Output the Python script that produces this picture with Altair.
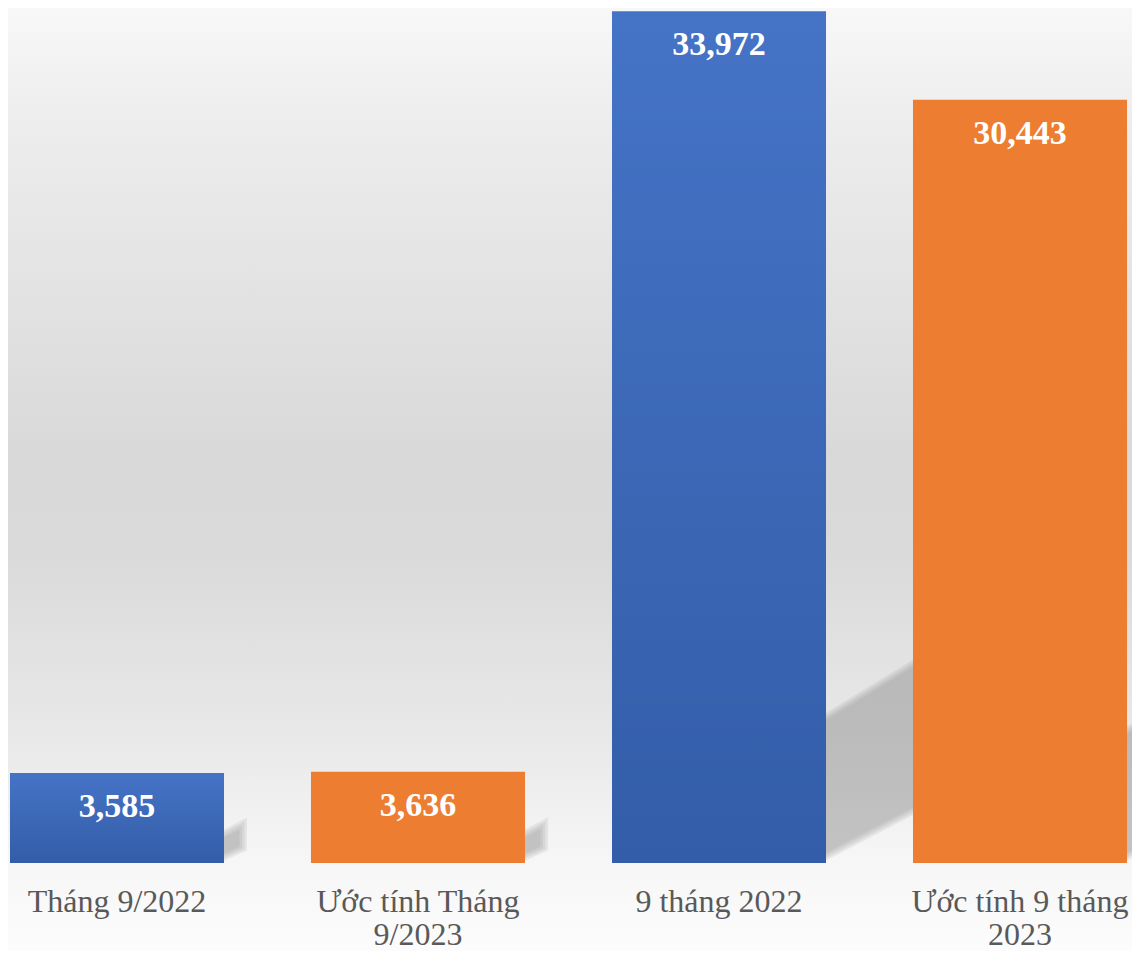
import altair as alt
import pandas as pd

# ---- data ----
categories = ["Tháng 9/2022", "Ước tính Tháng 9/2023", "9 tháng 2022", "Ước tính 9 tháng 2023"]
values = [3585, 3636, 33972, 30443]
periods = ["2022", "2023", "2022", "2023"]
label_lines = [["Tháng 9/2022"], ["Ước tính Tháng", "9/2023"], ["9 tháng 2022"], ["Ước tính 9 tháng", "2023"]]

# ---- layout ----
W, H = 1121, 855
Y_MAX = 34100
PAD_INNER = 0.289
PAD_OUTER = 0.0066
PAD = {"left": 0, "top": 0, "right": 3, "bottom": 88}
SERIF = "Liberation Serif"

df = pd.DataFrame({"cat": categories, "value": values, "period": periods})


def x_scale():
    return alt.Scale(type="band", domain=categories, paddingInner=PAD_INNER, paddingOuter=PAD_OUTER)


y_scale = alt.Scale(domain=[0, Y_MAX], nice=False, zero=True)

label_expr = " : ".join(
    f"datum.value == '{c}' ? {list(lines)}" for c, lines in zip(categories, label_lines)
) + " : datum.value"
label_expr = label_expr.replace('"', "'")

x_axis = alt.Axis(
    title=None, labelAngle=0, ticks=False, tickSize=0, domain=False, grid=False,
    labelFont=SERIF, labelColor="#595959", labelPadding=48, labelFontSize=32,
    labelBaseline="alphabetic", labelLineHeight=33, labelLimit=500, labelExpr=label_expr,
    zindex=2,
)

# ---- background gradient ----
bg_grad = {
    "gradient": "linear", "x1": 0, "x2": 0, "y1": 0, "y2": 1,
    "stops": [
        {"offset": 0.0, "color": "#f8f8f8"},
        {"offset": 0.12, "color": "#ededed"},
        {"offset": 0.47, "color": "#d9d9d9"},
        {"offset": 0.58, "color": "#dadada"},
        {"offset": 0.78, "color": "#e9e9e9"},
        {"offset": 0.9, "color": "#f6f6f6"},
        {"offset": 1.0, "color": "#fcfcfc"},
    ],
}
bg = alt.Chart(alt.Data(values=[{"k": 1}])).mark_rect(fill=bg_grad).encode(
    x=alt.value(0), x2=alt.value(W + PAD["right"]),
    y=alt.value(0), y2=alt.value(H + PAD["bottom"]),
)

# ---- soft cast shadows derived from the bars ----
n = len(categories)
step = W / (n - PAD_INNER + 2 * PAD_OUTER)
bw = step * (1 - PAD_INNER)
h_max = max(values) * H / Y_MAX
rows = []
for k, grow in enumerate([0, 2.5, 5, 7.5]):
    for i, v in enumerate(values):
        h = v * H / Y_MAX
        r = PAD_OUTER * step + i * step + bw
        L = 0.3 * h * (h / h_max) ** 0.25 + grow
        b0 = max(8 - grow, 0)
        t0 = 0.153 * h + 10 + grow
        rows.append({"g": f"{k}-{i}", "px": r - 4, "top": t0, "bot": b0})
        rows.append({"g": f"{k}-{i}", "px": r + L, "top": t0 + 0.62 * L, "bot": b0 + 0.53 * L})
shadow_df = pd.DataFrame(rows)
shadow = alt.Chart(shadow_df).mark_area(color="#8c8c8c", opacity=0.15).encode(
    x=alt.X("px:Q", scale=alt.Scale(domain=[0, W], nice=False, zero=False), axis=None),
    y=alt.Y("top:Q", scale=alt.Scale(domain=[0, H], nice=False), axis=None),
    y2="bot:Q",
    detail="g:N",
)

# ---- bars ----
blue_grad = {
    "gradient": "linear", "x1": 0, "x2": 0, "y1": 0, "y2": 1,
    "stops": [{"offset": 0, "color": "#4573C6"}, {"offset": 1, "color": "#335DA8"}],
}
base = alt.Chart(df)
bars_blue = base.transform_filter(alt.datum.period == "2022").mark_bar(fill=blue_grad).encode(
    x=alt.X("cat:N", scale=x_scale(), axis=x_axis, sort=categories),
    y=alt.Y("value:Q", scale=y_scale, axis=None),
)
bars_orange = base.transform_filter(alt.datum.period == "2023").mark_bar(color="#ED7D31").encode(
    x=alt.X("cat:N", scale=x_scale(), axis=None, sort=categories),
    y=alt.Y("value:Q", scale=y_scale, axis=None),
)
labels = base.mark_text(
    font=SERIF, fontSize=34, fontWeight="bold", color="white",
    baseline="alphabetic", dy=44, align="center",
).encode(
    x=alt.X("cat:N", scale=x_scale(), axis=None, sort=categories, bandPosition=0.5),
    y=alt.Y("value:Q", scale=y_scale, axis=None),
    text=alt.Text("value:Q", format=","),
)

chart = alt.layer(bg, shadow, bars_blue, bars_orange, labels).resolve_scale(
    x="independent", y="independent"
).properties(
    width=W, height=H, padding=PAD, autosize=alt.AutoSizeParams(type="none"),
).configure_view(stroke=None)

chart.save("out.html", embed_options={"renderer": "svg", "actions": False})
